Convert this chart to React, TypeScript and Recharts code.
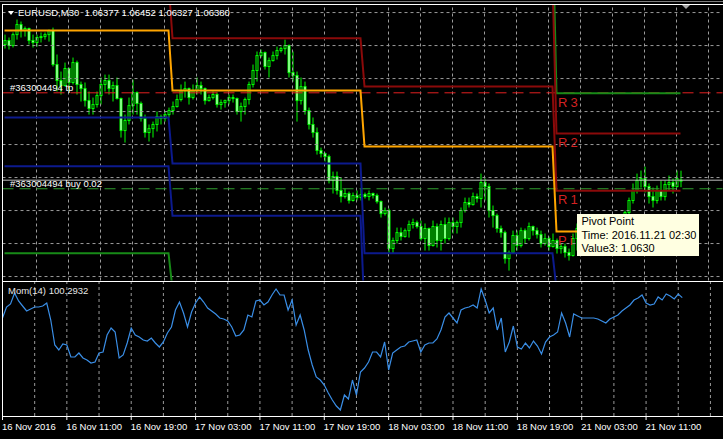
import React from 'react';
import { ComposedChart, Bar, Line, XAxis, YAxis, ReferenceLine, ReferenceDot } from 'recharts';

// EURUSD M30, 16 Nov 03:00 .. 21 Nov 15:30 (one entry per bar)
const barOpen = [
  1.07408, 1.07438, 1.07400, 1.07483, 1.07559, 1.07514, 1.07529, 1.07438, 1.07423, 1.07461,
  1.07468, 1.07483, 1.07514, 1.07256, 1.07135, 1.07097, 1.07226, 1.07120, 1.07271, 1.07105,
  1.07074, 1.06983, 1.06923, 1.06953, 1.07021, 1.07105, 1.07135, 1.07074, 1.07097, 1.06999,
  1.06756, 1.06832, 1.06945, 1.07044, 1.06961, 1.06847, 1.06741, 1.06771, 1.06802, 1.06862,
  1.06847, 1.06877, 1.06908, 1.06938, 1.06991, 1.07059, 1.07074, 1.07006, 1.07059, 1.07097,
  1.07074, 1.06983, 1.07006, 1.07029, 1.06953, 1.06968, 1.06983, 1.07006, 1.06999, 1.06900,
  1.06938, 1.06991, 1.07105, 1.07211, 1.07324, 1.07347, 1.07241, 1.07286, 1.07324, 1.07362,
  1.07377, 1.07400, 1.07195, 1.07173, 1.06983, 1.07089, 1.06908, 1.06802, 1.06741, 1.06605,
  1.06582, 1.06559, 1.06377, 1.06408, 1.06302, 1.06256, 1.06279, 1.06226, 1.06264, 1.06248,
  1.06271, 1.06256, 1.06279, 1.06264, 1.06218, 1.06127, 1.06150, 1.05862, 1.05923, 1.05983,
  1.05953, 1.05998, 1.06044, 1.06059, 1.06029, 1.05938, 1.06014, 1.05885, 1.06029, 1.05923,
  1.06044, 1.05938, 1.06059, 1.06029, 1.06059, 1.06150, 1.06211, 1.06195, 1.06256, 1.06241,
  1.06362, 1.06332, 1.06150, 1.06112, 1.06014, 1.05983, 1.05786, 1.05832, 1.05961, 1.05885,
  1.05998, 1.05938, 1.06029, 1.05998, 1.05968, 1.05900, 1.05938, 1.05877, 1.05923, 1.05862,
  1.05877, 1.05832, 1.05809, 1.05938, 1.06014, 1.05983, 1.05998, 1.05976, 1.05953, 1.05968,
  1.05998, 1.06021, 1.06044, 1.06059, 1.06074, 1.06089, 1.06135, 1.06226, 1.06302, 1.06377,
  1.06392, 1.06332, 1.06256, 1.06226, 1.06302, 1.06256, 1.06347, 1.06362, 1.06332, 1.06377,
];
const barHigh = [
  1.07483, 1.07461, 1.07499, 1.07597, 1.07582, 1.07544, 1.07536, 1.07483, 1.07483, 1.07499,
  1.07499, 1.07521, 1.07536, 1.07332, 1.07203, 1.07271, 1.07233, 1.07309, 1.07286, 1.07127,
  1.07120, 1.07052, 1.07006, 1.07052, 1.07158, 1.07180, 1.07180, 1.07127, 1.07158, 1.07006,
  1.06877, 1.07006, 1.07142, 1.07052, 1.06976, 1.06877, 1.06802, 1.06824, 1.06900, 1.06877,
  1.06900, 1.06930, 1.06976, 1.07029, 1.07105, 1.07127, 1.07082, 1.07105, 1.07158, 1.07127,
  1.07082, 1.07029, 1.07052, 1.07044, 1.06991, 1.06991, 1.07029, 1.07029, 1.07006, 1.06968,
  1.07006, 1.07127, 1.07256, 1.07355, 1.07370, 1.07355, 1.07309, 1.07355, 1.07392, 1.07392,
  1.07445, 1.07408, 1.07355, 1.07203, 1.07158, 1.07127, 1.06930, 1.06855, 1.06779, 1.06627,
  1.06589, 1.06574, 1.06445, 1.06445, 1.06400, 1.06317, 1.06294, 1.06286, 1.06302, 1.06317,
  1.06286, 1.06302, 1.06286, 1.06279, 1.06226, 1.06173, 1.06165, 1.05945, 1.06021, 1.06021,
  1.06014, 1.06074, 1.06089, 1.06074, 1.06074, 1.06052, 1.06021, 1.06074, 1.06052, 1.06074,
  1.06097, 1.06097, 1.06097, 1.06074, 1.06173, 1.06248, 1.06248, 1.06286, 1.06279, 1.06430,
  1.06392, 1.06355, 1.06188, 1.06127, 1.06036, 1.05998, 1.05847, 1.05998, 1.05998, 1.06021,
  1.06014, 1.06059, 1.06036, 1.06021, 1.05998, 1.05976, 1.05953, 1.05976, 1.05938, 1.05900,
  1.05900, 1.05862, 1.05976, 1.06052, 1.06059, 1.06036, 1.06044, 1.06029, 1.06014, 1.06029,
  1.06052, 1.06074, 1.06089, 1.06097, 1.06105, 1.06150, 1.06248, 1.06355, 1.06430, 1.06453,
  1.06483, 1.06355, 1.06324, 1.06339, 1.06377, 1.06377, 1.06415, 1.06392, 1.06453, 1.06452,
];
const barLow = [
  1.07377, 1.07370, 1.07385, 1.07445, 1.07461, 1.07468, 1.07408, 1.07385, 1.07392, 1.07423,
  1.07445, 1.07430, 1.07241, 1.07052, 1.07029, 1.07089, 1.07052, 1.07105, 1.07029, 1.06976,
  1.06938, 1.06877, 1.06877, 1.06930, 1.06953, 1.07052, 1.07029, 1.06976, 1.06991, 1.06703,
  1.06665, 1.06802, 1.06877, 1.06877, 1.06824, 1.06703, 1.06673, 1.06703, 1.06749, 1.06802,
  1.06824, 1.06855, 1.06877, 1.06930, 1.06976, 1.07006, 1.06953, 1.06991, 1.07029, 1.07029,
  1.06953, 1.06976, 1.06991, 1.06930, 1.06915, 1.06930, 1.06953, 1.06968, 1.06877, 1.06824,
  1.06877, 1.06953, 1.07082, 1.07127, 1.07309, 1.07218, 1.07158, 1.07279, 1.07294, 1.07347,
  1.07332, 1.07158, 1.07127, 1.06824, 1.06953, 1.06877, 1.06764, 1.06703, 1.06574, 1.06552,
  1.06521, 1.06355, 1.06279, 1.06271, 1.06211, 1.06241, 1.06203, 1.06218, 1.06226, 1.06226,
  1.06241, 1.06226, 1.06241, 1.06203, 1.06097, 1.06112, 1.05824, 1.05824, 1.05900, 1.05923,
  1.05945, 1.05945, 1.06014, 1.06014, 1.05923, 1.05847, 1.05847, 1.05877, 1.05870, 1.05847,
  1.05900, 1.05923, 1.05976, 1.05976, 1.06021, 1.06135, 1.06173, 1.06188, 1.06211, 1.06173,
  1.06226, 1.06097, 1.06021, 1.05983, 1.05945, 1.05748, 1.05695, 1.05824, 1.05847, 1.05870,
  1.05900, 1.05923, 1.05961, 1.05938, 1.05870, 1.05885, 1.05847, 1.05870, 1.05824, 1.05824,
  1.05794, 1.05771, 1.05802, 1.05847, 1.05923, 1.05923, 1.05938, 1.05908, 1.05900, 1.05923,
  1.05938, 1.05961, 1.05983, 1.05998, 1.06014, 1.06029, 1.06120, 1.06203, 1.06279, 1.06324,
  1.06286, 1.06203, 1.06173, 1.06203, 1.06226, 1.06226, 1.06302, 1.06279, 1.06324, 1.06327,
];
const barClose = [
  1.07438, 1.07400, 1.07483, 1.07559, 1.07514, 1.07529, 1.07438, 1.07423, 1.07461, 1.07468,
  1.07483, 1.07514, 1.07256, 1.07135, 1.07097, 1.07226, 1.07120, 1.07271, 1.07105, 1.07074,
  1.06983, 1.06923, 1.06953, 1.07021, 1.07105, 1.07135, 1.07074, 1.07097, 1.06999, 1.06756,
  1.06832, 1.06945, 1.07044, 1.06961, 1.06847, 1.06741, 1.06771, 1.06802, 1.06862, 1.06847,
  1.06877, 1.06908, 1.06938, 1.06991, 1.07059, 1.07074, 1.07006, 1.07059, 1.07097, 1.07074,
  1.06983, 1.07006, 1.07029, 1.06953, 1.06968, 1.06983, 1.07006, 1.06999, 1.06900, 1.06938,
  1.06991, 1.07105, 1.07211, 1.07324, 1.07347, 1.07241, 1.07286, 1.07324, 1.07362, 1.07377,
  1.07400, 1.07195, 1.07173, 1.06983, 1.07089, 1.06908, 1.06802, 1.06741, 1.06605, 1.06582,
  1.06559, 1.06377, 1.06408, 1.06302, 1.06256, 1.06279, 1.06226, 1.06264, 1.06248, 1.06271,
  1.06256, 1.06279, 1.06264, 1.06218, 1.06127, 1.06150, 1.05862, 1.05923, 1.05983, 1.05953,
  1.05998, 1.06044, 1.06059, 1.06029, 1.05938, 1.06014, 1.05885, 1.06029, 1.05923, 1.06044,
  1.05938, 1.06059, 1.06029, 1.06059, 1.06150, 1.06211, 1.06195, 1.06256, 1.06241, 1.06362,
  1.06332, 1.06150, 1.06112, 1.06014, 1.05983, 1.05786, 1.05832, 1.05961, 1.05885, 1.05998,
  1.05938, 1.06029, 1.05998, 1.05968, 1.05900, 1.05938, 1.05877, 1.05923, 1.05862, 1.05877,
  1.05832, 1.05809, 1.05938, 1.06014, 1.05983, 1.05998, 1.05976, 1.05953, 1.05968, 1.05998,
  1.06021, 1.06044, 1.06059, 1.06074, 1.06089, 1.06135, 1.06226, 1.06302, 1.06377, 1.06392,
  1.06332, 1.06256, 1.06226, 1.06302, 1.06256, 1.06347, 1.06362, 1.06332, 1.06392, 1.06380,
];

// Mom(14)
const momentum = [
  100.09, 100.20, 100.23, 100.34, 100.26, 100.21, 100.16, 100.18, 100.20, 100.20,
  100.21, 100.24, 100.07, 99.82, 99.77, 99.83, 99.82, 99.70, 99.70, 99.74,
  99.69, 99.67, 99.64, 99.65, 99.74, 99.75, 99.92, 99.99, 99.95, 99.69,
  99.72, 99.84, 99.99, 99.92, 99.90, 99.87, 99.86, 99.89, 99.84, 99.80,
  99.85, 99.94, 100.00, 100.17, 100.25, 100.14, 100.00, 100.15, 100.24, 100.30,
  100.25, 100.19, 100.16, 100.13, 100.09, 100.08, 100.06, 100.00, 99.91, 99.92,
  99.97, 100.12, 100.10, 100.26, 100.27, 100.22, 100.25, 100.32, 100.38, 100.32,
  100.32, 100.17, 100.27, 100.02, 100.12, 99.97, 99.77, 99.62, 99.50, 99.47,
  99.42, 99.34, 99.27, 99.21, 99.17, 99.32, 99.28, 99.47, 99.32, 99.55,
  99.59, 99.65, 99.75, 99.75, 99.70, 99.85, 99.57, 99.74, 99.77, 99.80,
  99.81, 99.85, 99.86, 99.87, 99.75, 99.82, 99.84, 99.84, 99.88, 99.97,
  100.10, 100.14, 100.09, 100.04, 100.17, 100.19, 100.20, 100.22, 100.19, 100.38,
  100.27, 100.14, 100.19, 99.97, 100.09, 99.75, 99.85, 100.01, 99.80, 99.78,
  99.84, 99.79, 99.86, 99.81, 99.73, 99.85, 99.90, 99.92, 99.95, 100.14,
  100.04, 99.90, 100.13, 100.11, 100.09, 100.09, 100.09, 100.09, 100.08, 100.06,
  100.04, 100.08, 100.10, 100.12, 100.16, 100.19, 100.22, 100.27, 100.29, 100.32,
  100.24, 100.22, 100.23, 100.30, 100.27, 100.33, 100.31, 100.28, 100.33, 100.2932,
];

// daily pivot levels: 16 Nov, 17 Nov, 18 Nov, 21 Nov
const dayStarts = [0, 42, 90, 138];
const pivotP = [1.07514, 1.07059, 1.06635, 1.05991];
const pivotR1 = [1.07883, 1.07455, 1.07089, 1.063];
const pivotR2 = [1.08542, 1.08008, 1.07897, 1.06733];
const pivotR3 = [1.08911, 1.08404, 1.08351, 1.07039];
const pivotS1 = [1.06855, 1.06506, 1.05827, 1.05558];
const pivotS2 = [1.06486, 1.0611, 1.05373, 1.05249];
const pivotS3 = [1.05827, 1.05557, 1.04565, 1.04816];

const xTickBars = [0, 16, 32, 48, 64, 80, 96, 112, 128, 144, 160];
const xTickLabels = [
  '16 Nov 2016', '16 Nov 11:00', '16 Nov 19:00', '17 Nov 03:00', '17 Nov 11:00', '17 Nov 19:00',
  '18 Nov 03:00', '18 Nov 11:00', '18 Nov 19:00', '21 Nov 03:00', '21 Nov 11:00',
];
const gridBars = [8, 16, 24, 32, 40, 48, 56, 64, 72, 80, 88, 96, 104, 112, 120, 128, 136, 144, 152, 160, 168, 176];
const gridPrices = [1.0565, 1.059, 1.0615, 1.064, 1.0665, 1.069, 1.0715, 1.074, 1.0765];
const totalSlots = 180;

const orderTp = 1.07042;
const orderOpen = 1.06315;
const bidPrice = 1.0638;

const FONT = '"Liberation Sans", Arial, sans-serif';
const GRID = '#9a9a9a';
const LIME = '#00ff00';

const dayOf = (i: number) => {
  let d = 0;
  dayStarts.forEach((s, k) => {
    if (i >= s) d = k;
  });
  return d;
};

const rows = Array.from({ length: totalSlots }, (_, i) => {
  const has = i < barClose.length;
  const d = dayOf(i);
  return {
    i,
    open: has ? barOpen[i] : null,
    high: has ? barHigh[i] : null,
    low: has ? barLow[i] : null,
    close: has ? barClose[i] : null,
    range: has ? [barLow[i], barHigh[i]] : null,
    P: has ? pivotP[d] : null,
    R1: has ? pivotR1[d] : null,
    R2: has ? pivotR2[d] : null,
    R3: has ? pivotR3[d] : null,
    S1: has ? pivotS1[d] : null,
    S2: has ? pivotS2[d] : null,
    S3: has ? pivotS3[d] : null,
    mom: has ? momentum[i] : null,
  };
});

const Candle = (props: any) => {
  const { x, y, width, height, payload } = props;
  if (!payload || payload.open == null) return <g />;
  const cx = x + width / 2;
  const top = Math.min(y, y + height);
  const h = Math.abs(height);
  const span = payload.high - payload.low;
  const toY = (v: number) => (span > 0 ? top + ((payload.high - v) / span) * h : top);
  const yo = toY(payload.open);
  const yc = toY(payload.close);
  const bull = payload.close >= payload.open;
  return (
    <g>
      <line x1={cx} x2={cx} y1={top} y2={top + h} stroke={LIME} strokeWidth={1} />
      <rect
        x={cx - 1}
        y={Math.min(yo, yc)}
        width={2}
        height={Math.max(Math.abs(yo - yc), 1)}
        fill={bull ? '#000000' : '#ffffff'}
        stroke={LIME}
        strokeWidth={1}
      />
    </g>
  );
};

const XTick = (props: any) => {
  const { x, y, payload } = props;
  const label = xTickLabels[xTickBars.indexOf(payload.value)];
  return (
    <g>
      <line x1={x} x2={x} y1={y} y2={y + 4} stroke="#ffffff" />
      <text x={x - 0.5} y={y + 14} fill="#ffffff" fontSize={9.5} fontFamily={FONT}>
        {label}
      </text>
    </g>
  );
};

// the Monday pivot label is mostly hidden under the tooltip; only "Pi" shows
const pivotLabels = [
  { text: 'R3', value: pivotR3[3] },
  { text: 'R2', value: pivotR2[3] },
  { text: 'R1', value: pivotR1[3] },
  { text: 'Pi', value: pivotP[3] },
];

const levelLine = (key: string, color: string) => (
  <Line
    key={key}
    dataKey={key}
    stroke={color}
    strokeWidth={2}
    dot={false}
    activeDot={false}
    isAnimationActive={false}
  />
);

const last = barClose.length - 1;
const title = `EURUSD,M30  ${barOpen[last].toFixed(5)} ${barHigh[last].toFixed(5)} ${barLow[last].toFixed(5)} ${barClose[last].toFixed(5)}`;

export default function App() {
  return (
    <div style={{ position: 'fixed', left: 0, top: 0, width: 723, height: 439, background: '#000', overflow: 'hidden' }}>
      <div style={{ position: 'absolute', left: 0, top: 0 }}>
        <ComposedChart width={723} height={281} data={rows} margin={{ top: 4.5, right: 0.5, bottom: 0.5, left: 2.5 }}>
          <XAxis dataKey="i" type="category" hide />
          <YAxis type="number" domain={[1.0562, 1.07711]} hide allowDataOverflow />
          {gridPrices.map((p) => (
            <ReferenceLine key={'gp' + p} y={p} stroke={GRID} strokeDasharray="3 3" />
          ))}
          {gridBars.map((b) => (
            <ReferenceLine key={'gb' + b} x={b} stroke={GRID} strokeDasharray="3 3" />
          ))}
          <ReferenceLine y={orderTp} stroke="#e32020" strokeDasharray="11 6" />
          <ReferenceLine y={orderOpen} stroke="#2e9e2e" strokeDasharray="11 6" />
          <ReferenceLine y={bidPrice} stroke="#c0c0c0" />
          <Bar dataKey="range" barSize={3} shape={Candle} isAnimationActive={false} />
          {levelLine('S3', '#178a17')}
          {levelLine('S2', '#0c1a8e')}
          {levelLine('S1', '#0c1a8e')}
          {levelLine('R3', '#178a17')}
          {levelLine('R2', '#8b0a0a')}
          {levelLine('R1', '#8b0a0a')}
          {levelLine('P', '#ffa500')}
          <ReferenceDot
            x={0}
            y={orderTp}
            r={0}
            shape={(p: any) => (
              <text x={p.cx + 5.5} y={p.cy - 2} fill="#ffffff" fontSize={9.5} fontFamily={FONT}>
                #363004494 tp
              </text>
            )}
          />
          <ReferenceDot
            x={0}
            y={orderOpen}
            r={0}
            shape={(p: any) => (
              <text x={p.cx + 5.5} y={p.cy - 2} fill="#ffffff" fontSize={9.5} fontFamily={FONT}>
                #363004494 buy 0.02
              </text>
            )}
          />
          {pivotLabels.map((l) => (
            <ReferenceDot
              key={l.text}
              x={dayStarts[3]}
              y={l.value}
              r={0}
              shape={(p: any) => (
                <text x={p.cx + 1.5} y={p.cy + 13.5} fill="#d42222" fontSize={13} letterSpacing={3} fontFamily={FONT}>
                  {l.text}
                </text>
              )}
            />
          ))}
        </ComposedChart>
      </div>
      <div style={{ position: 'absolute', left: 0, top: 282 }}>
        <ComposedChart width={723} height={157} data={rows} margin={{ top: 0, right: 0.5, bottom: 0, left: 2.5 }}>
          <XAxis
            dataKey="i"
            type="category"
            ticks={xTickBars}
            interval={0}
            tick={XTick}
            tickLine={false}
            axisLine={false}
            tickSize={0}
            tickMargin={0}
            height={23}
          />
          <YAxis type="number" domain={[99.11, 100.45]} hide allowDataOverflow />
          {gridBars.map((b) => (
            <ReferenceLine key={'mb' + b} x={b} stroke={GRID} strokeDasharray="3 3" />
          ))}
          <Line dataKey="mom" stroke="#3a8ee6" strokeWidth={1.2} dot={false} activeDot={false} isAnimationActive={false} />
        </ComposedChart>
      </div>
      <svg width={723} height={439} style={{ position: 'absolute', left: 0, top: 0, pointerEvents: 'none' }}>
        <line x1={0} x2={723} y1={1.5} y2={1.5} stroke="#7c7c7c" />
        <line x1={2.5} x2={723} y1={4.5} y2={4.5} stroke="#ffffff" />
        <line x1={2.5} x2={2.5} y1={4} y2={417} stroke="#ffffff" />
        <line x1={2.5} x2={723} y1={281.5} y2={281.5} stroke="#ffffff" />
        <line x1={2.5} x2={723} y1={416.5} y2={416.5} stroke="#ffffff" />
        <polygon points="8,11 14,11 11,15" fill="#ffffff" />
        <text x={18} y={16} fill="#ffffff" fontSize={9.5} fontFamily={FONT} style={{ whiteSpace: 'pre' }}>
          {title}
        </text>
        <polygon points="682,5 690,5 686,9" fill="#a8a8a8" />
        <text x={8} y={294} fill="#e6e6e6" fontSize={9.5} fontFamily={FONT}>
          {`Mom(14) ${momentum[last].toFixed(4)}`}
        </text>
        <rect x={577} y={214} width={122} height={42} fill="#ffffe1" />
        <text x={581.5} y={225} fill="#000000" fontSize={11} fontFamily={FONT}>
          Pivot Point
        </text>
        <text x={581.5} y={238.5} fill="#000000" fontSize={11} fontFamily={FONT}>
          Time: 2016.11.21 02:30
        </text>
        <text x={581.5} y={252} fill="#000000" fontSize={11} fontFamily={FONT}>
          Value3: 1.0630
        </text>
      </svg>
    </div>
  );
}
